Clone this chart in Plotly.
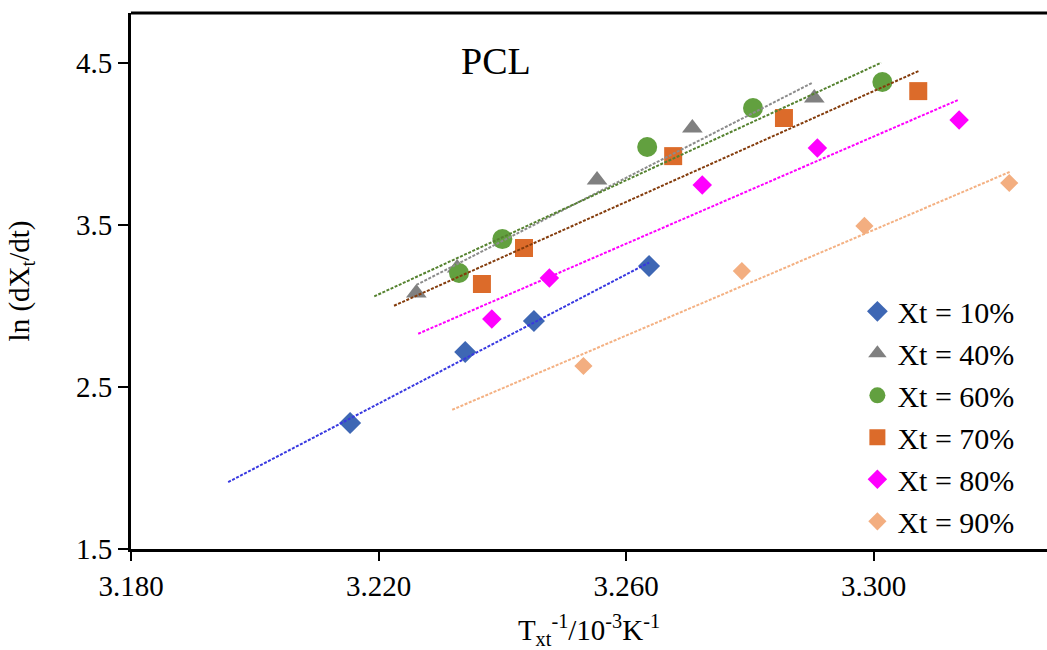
import numpy as np
import plotly.graph_objects as go

# ---- data ----
labels = ["Xt = 10%", "Xt = 40%", "Xt = 60%", "Xt = 70%", "Xt = 80%", "Xt = 90%"]

x10 = [3.2154, 3.2340, 3.2451, 3.2637]
y10 = [2.277, 2.715, 2.907, 3.246]

x40 = [3.2261, 3.2327, 3.2553, 3.2707, 3.2904]
y40 = [3.079, 3.233, 3.776, 4.097, 4.282]

x60 = [3.2330, 3.2400, 3.2634, 3.2805, 3.3014]
y60 = [3.203, 3.412, 3.980, 4.221, 4.381]

x70 = [3.2367, 3.2435, 3.2676, 3.2855, 3.3072]
y70 = [3.135, 3.357, 3.924, 4.159, 4.325]

x80 = [3.2383, 3.2476, 3.2723, 3.2909, 3.3138]
y80 = [2.919, 3.172, 3.746, 3.974, 4.147]

x90 = [3.2531, 3.2787, 3.2985, 3.3219]
y90 = [2.629, 3.215, 3.493, 3.758]

# extent of each linear trendline (x start, x end)
trend_start = [3.1957, 3.2261, 3.2193, 3.2225, 3.2264, 3.2319]
trend_end = [3.2637, 3.2902, 3.3012, 3.3074, 3.3138, 3.3221]

xticks = [3.180, 3.220, 3.260, 3.300]
yticks = [1.5, 2.5, 3.5, 4.5]

# ---- styles ----
xs = [x10, x40, x60, x70, x80, x90]
ys = [y10, y40, y60, y70, y80, y90]
symbols = ["diamond", "triangle-up", "circle", "square", "diamond", "diamond"]
sizes = [17, 18, 20, 18, 15, 14]
mcolors = ["#3E67B4", "#808080", "#62A03F", "#DC6B2A", "#FF00FF", "#F3AE80"]
lcolors = ["#3838E0", "#8C8C8C", "#55822F", "#843C0C", "#FF00FF", "#F4B183"]

FONT = "Liberation Serif"

fig = go.Figure()
for i in range(6):
    fig.add_trace(go.Scatter(
        x=xs[i], y=ys[i], mode="markers", name=labels[i],
        marker=dict(symbol=symbols[i], size=sizes[i], color=mcolors[i],
                    line=dict(width=0)),
    ))

for i in range(6):
    slope, icpt = np.polyfit(xs[i], ys[i], 1)
    tx = np.array([trend_start[i], trend_end[i]])
    fig.add_trace(go.Scatter(
        x=tx, y=slope * tx + icpt, mode="lines", showlegend=False,
        line=dict(color=lcolors[i], width=2, dash="3px,1.5px"),
        hoverinfo="skip",
    ))

fig.add_annotation(text="PCL", x=0.398, y=0.91, xref="paper", yref="paper",
                   xanchor="center", yanchor="middle",
                   showarrow=False, font=dict(family=FONT, size=38, color="black"))

# top frame line
fig.add_shape(type="line", xref="paper", yref="paper", x0=0, x1=1, y0=1, y1=1,
              line=dict(color="black", width=3))

fig.update_layout(
    width=1047, height=650,
    margin=dict(l=131, r=0, t=13, b=101),
    plot_bgcolor="white", paper_bgcolor="white",
    font=dict(family=FONT, size=29, color="black"),
    showlegend=True,
    legend=dict(x=0.793, y=0.492, xanchor="left", yanchor="top",
                bgcolor="rgba(0,0,0,0)", font=dict(family=FONT, size=30),
                tracegroupgap=0, itemwidth=30),
    xaxis=dict(range=[3.180, 3.328], tickvals=xticks,
               ticktext=[f"{v:.3f}" for v in xticks],
               showgrid=False, zeroline=False, showline=True,
               linecolor="black", linewidth=3, ticks="outside",
               ticklen=9, tickwidth=2, tickcolor="black",
               tickfont=dict(family=FONT, size=29),
               title=dict(text="T<sub>xt</sub><sup>-1</sup>/10<sup>-3</sup>K<sup>-1</sup>",
                          font=dict(family=FONT, size=29), standoff=20)),
    yaxis=dict(range=[1.5, 4.807], tickvals=yticks,
               ticktext=[f"{v:.1f}" for v in yticks],
               showgrid=False, zeroline=False, showline=True,
               linecolor="black", linewidth=3, ticks="outside",
               ticklen=10, tickwidth=2, tickcolor="black",
               tickfont=dict(family=FONT, size=29),
               title=dict(text="ln (dX<sub>t</sub>/dt)",
                          font=dict(family=FONT, size=29), standoff=38)),
)

fig.write_html("out.html")
